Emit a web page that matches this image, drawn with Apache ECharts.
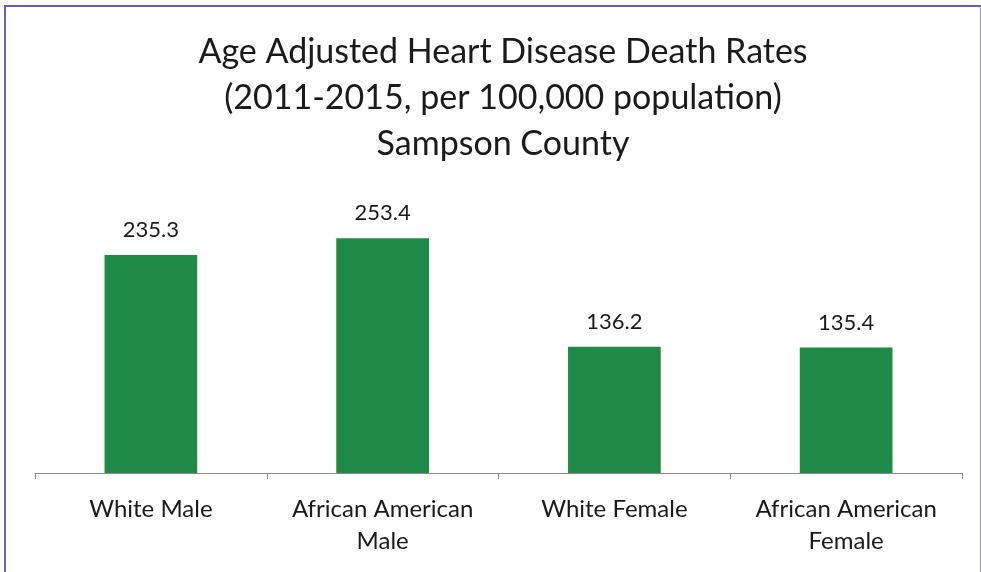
<!DOCTYPE html>
<html>
<head>
<meta charset="utf-8">
<script src="https://cdn.jsdelivr.net/npm/echarts@6/dist/echarts.min.js"></script>
<style>
  html, body { margin: 0; padding: 0; background: #fff; }
  .frame {
    position: absolute; left: 4px; top: 5px; width: 978px; height: 580px;
    border-top: 2px solid #6f5fa8; border-left: 2px solid #7b5db0; border-right: 2px solid #9a90c8;
    box-sizing: border-box;
  }
  #chart { position: absolute; left: 0; top: 0; width: 981px; height: 572px; }
</style>
</head>
<body>
<div class="frame"></div>
<div id="chart"></div>
<script>
// 数据
const categories = ['White Male', 'African American\nMale', 'White Female', 'African American\nFemale'];
const rates = [235.3, 253.4, 136.2, 135.4];
const titleText = 'Age Adjusted Heart Disease Death Rates\n(2011-2015, per 100,000 population)\nSampson County';

const barColor = '#1f8a47';
const textColor = '#1a1a1a';
const fontFamily = 'Lato, "Open Sans", sans-serif';

const chart = echarts.init(document.getElementById('chart'));

const option = {
  backgroundColor: 'transparent',
  animation: false,
  title: {
    text: titleText,
    left: 498,
    textAlign: 'center',
    top: 24,
    textStyle: {
      color: textColor,
      fontFamily: fontFamily,
      fontWeight: 'normal',
      fontSize: 34,
      lineHeight: 46
    }
  },
  grid: {
    left: 35,
    right: 19,
    top: 195,
    bottom: 99
  },
  xAxis: {
    type: 'category',
    data: categories,
    axisLine: { lineStyle: { color: '#8a8a8a', width: 1 } },
    axisTick: { show: true, length: 6, lineStyle: { color: '#8a8a8a' } },
    axisLabel: {
      color: textColor,
      fontFamily: fontFamily,
      fontSize: 24,
      lineHeight: 32,
      margin: 20,
      interval: 0
    }
  },
  yAxis: {
    type: 'value',
    min: 0,
    max: 300,
    show: false
  },
  series: [{
    type: 'bar',
    data: rates,
    barWidth: '40%',
    itemStyle: { color: barColor },
    label: {
      show: true,
      position: 'top',
      distance: 14,
      color: textColor,
      fontFamily: fontFamily,
      fontSize: 22,
      formatter: (p) => p.value.toFixed(1)
    }
  }]
};

chart.setOption(option);
</script>
</body>
</html>
